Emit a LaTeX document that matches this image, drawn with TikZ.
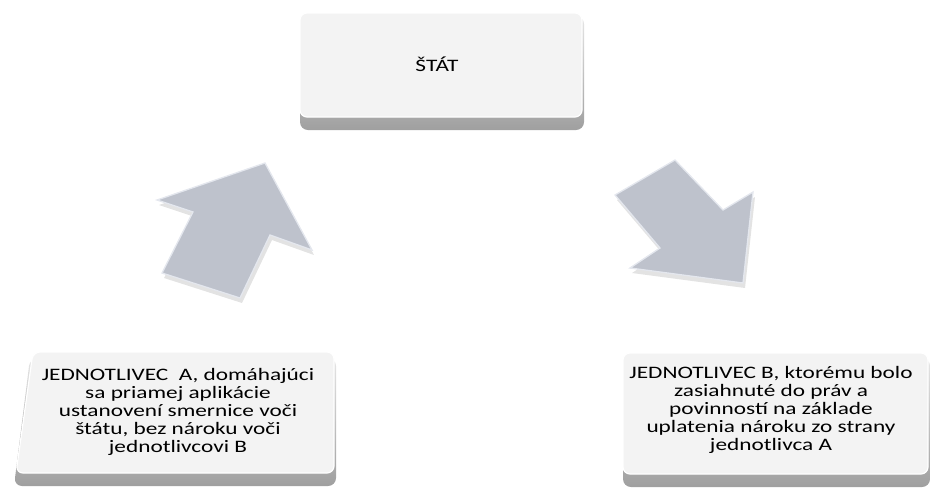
\documentclass[tikz,border=0pt]{standalone}
\usepackage{fontspec}
\newfontfamily\boxfont[FakeStretch=1.33]{Carlito}
\definecolor{arrowfill}{RGB}{190,194,204}
\definecolor{arrowedge}{RGB}{228,231,238}
\definecolor{facefill}{RGB}{243,243,243}
\begin{document}
\begin{tikzpicture}[x=1pt,y=-1pt,
  boxface/.style={fill=facefill, draw=white, line width=1.2pt, rounded corners=7pt},
  boxbase/.style={rounded corners=8pt, top color=gray!20, bottom color=gray!75, draw=none},
  lbl/.style={font=\boxfont\fontsize{17.5}{18}\selectfont, align=center, inner sep=0pt, text=black},
  arrowshape/.style={fill=arrowfill, draw=arrowedge, line width=1.3pt, line join=miter},
  arrowshadow/.style={fill=gray!22, draw=none}
]
\useasboundingbox (0,0) rectangle (931,491);
% top box
\draw[boxbase] (300,16) rectangle (584,130);
\draw[boxface] (300,13) rectangle (582,117);
\node[lbl] (stat) at (437,64) {ŠTÁT};
% left box
\draw[boxbase] (30,358) -- (336,358) -- (336,486) -- (14,486) -- cycle;
\draw[boxface] (33,352) -- (334,352) -- (334,473) -- (16,473) -- cycle;
\node[lbl] (indA) at (178,412) {JEDNOTLIVEC\ \ A, domáhajúci\\sa priamej aplikácie\\ustanovení smernice voči\\štátu, bez nároku voči\\jednotlivcovi B};
% right box
\draw[boxbase] (623,358) rectangle (930,487);
\draw[boxface] (623,353) rectangle (928,474);
\node[lbl] (indB) at (771,410) {JEDNOTLIVEC B, ktorému bolo\\zasiahnuté do práv a\\povinností na základe\\uplatenia nároku zo strany\\jednotlivca A};
% left arrow (up)
\fill[arrowshadow] (267,168) -- (314,255) -- (272,240) -- (242,303) -- (164,278) -- (195,217) -- (159,205) -- cycle;
\draw[arrowshape] (265,163) -- (312,250) -- (270,235) -- (240,298) -- (162,273) -- (193,212) -- (157,200) -- cycle;
% right arrow (down)
\fill[arrowshadow] (617,200) -- (677,165) -- (725,215) -- (755,197) -- (745,288) -- (632,273) -- (662,253) -- cycle;
\draw[arrowshape] (615,195) -- (675,160) -- (723,210) -- (753,192) -- (743,283) -- (630,268) -- (660,248) -- cycle;
\end{tikzpicture}
\end{document}
